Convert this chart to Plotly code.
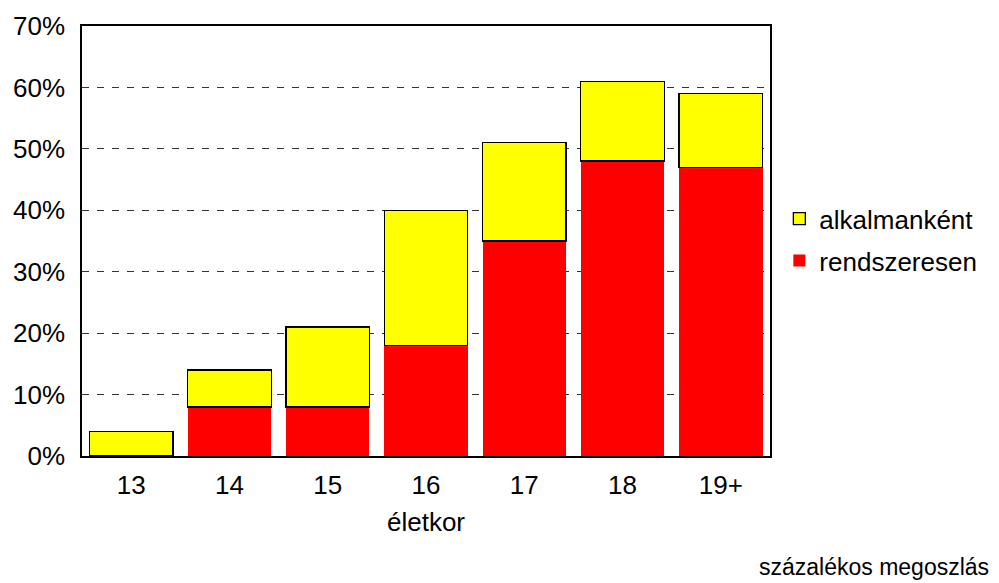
import plotly.graph_objects as go

categories = ["13", "14", "15", "16", "17", "18", "19+"]
rendszeresen = [0, 8, 8, 18, 35, 48, 47]
alkalmankent = [4, 6, 13, 22, 16, 13, 12]
y_ticks = [0, 10, 20, 30, 40, 50, 60, 70]
y_labels = [f"{v}%" for v in y_ticks]

FONT = "Liberation Sans, Arial, sans-serif"

fig = go.Figure()
fig.add_trace(go.Bar(
    x=categories, y=rendszeresen, name="rendszeresen", legendgroup="r",
    legendrank=2,
    marker=dict(color="#FF0000", line=dict(color="#FF0000", width=0)),
))
fig.add_trace(go.Bar(
    x=categories, y=alkalmankent, name="alkalmanként", legendgroup="a",
    legendrank=1,
    marker=dict(color="#FFFF00", line=dict(color="black", width=1.3)),
))

fig.update_layout(
    width=991, height=575,
    barmode="stack", bargap=0.15,
    plot_bgcolor="white", paper_bgcolor="white",
    margin=dict(l=74, r=229, t=18, b=127, autoexpand=False),
    font=dict(family=FONT, size=26, color="black"),
    showlegend=True,
    legend=dict(
        x=1.0136, y=0.503, xanchor="left", yanchor="middle",
        traceorder="grouped", tracegroupgap=5, font=dict(size=26),
        bgcolor="rgba(0,0,0,0)", itemwidth=30,
    ),
    xaxis=dict(
        showline=True, linecolor="black", linewidth=1.5, mirror=True,
        ticks="", ticklabelstandoff=5, automargin=False,
        title=dict(text="életkor", standoff=14, font=dict(size=26)),
        tickfont=dict(size=26),
    ),
    yaxis=dict(
        range=[0, 70], tickvals=y_ticks, ticktext=y_labels,
        showline=True, linecolor="black", linewidth=1.5, mirror=True,
        showgrid=True, gridcolor="#333333", griddash="7px,8px", gridwidth=1,
        ticks="", ticklabelstandoff=10, tickfont=dict(size=26), zeroline=False,
        automargin=False,
    ),
    annotations=[dict(
        text="százalékos megoszlás", xref="paper", yref="paper",
        x=1.3214, y=-0.258, xanchor="right", yanchor="middle",
        showarrow=False, font=dict(size=23),
    )],
)

fig.write_html("out.html")
